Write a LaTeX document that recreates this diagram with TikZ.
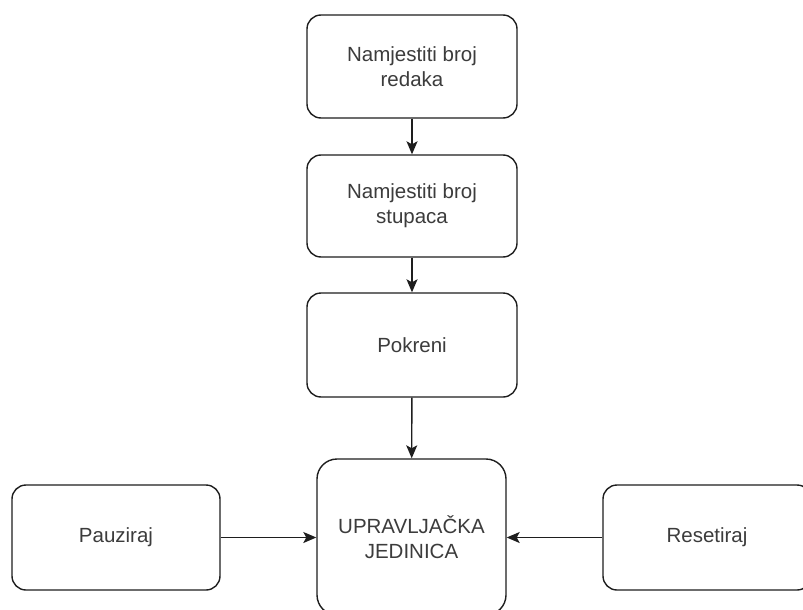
\documentclass[tikz,border=0pt]{standalone}
\usepackage{fontspec}
\setmainfont{Liberation Sans}
\usetikzlibrary{arrows.meta}
\definecolor{txt}{RGB}{60,60,60}
\definecolor{edge}{RGB}{30,30,30}
\begin{document}
\begin{tikzpicture}[x=1pt,y=-1pt,
  box/.style={draw=edge, line width=1.4pt, rounded corners=14pt, fill=white,
    minimum width=210pt, minimum height=103pt, align=center, text=txt,
    font=\fontsize{20.5}{25}\selectfont, inner sep=0pt},
  link/.style={draw=edge, line width=1.4pt,
    -{Stealth[length=13pt,width=11pt,inset=3pt]}}]
  \clip (0,0) rectangle (803,610);
  \fill[white] (0,0) rectangle (803,610);

  % main column
  \node[box] (rows) at (412,66.5) {Namjestiti broj\\redaka};
  \node[box, minimum height=102pt] (cols) at (412,206) {Namjestiti broj\\stupaca};
  \node[box, minimum height=104pt] (start) at (412,345) {Pokreni};
  \node[box, minimum width=189pt, minimum height=156pt, rounded corners=20pt]
    (ctrl) at (411.5,537) {UPRAVLJAČKA\\JEDINICA};

  % side inputs
  \node[box, minimum width=208pt, minimum height=105pt] (pause) at (116,537.5) {Pauziraj};
  \node[box, minimum width=208pt, minimum height=105pt] (reset) at (707,537.5) {Resetiraj};

  % connectors
  \draw[link] (rows) -- (cols);
  \draw[link] (cols) -- (start);
  \draw[link] (start) -- (ctrl);
  \draw[link] (pause.east) -- (pause.east -| ctrl.west);
  \draw[link] (reset.west) -- (reset.west -| ctrl.east);
\end{tikzpicture}
\end{document}
